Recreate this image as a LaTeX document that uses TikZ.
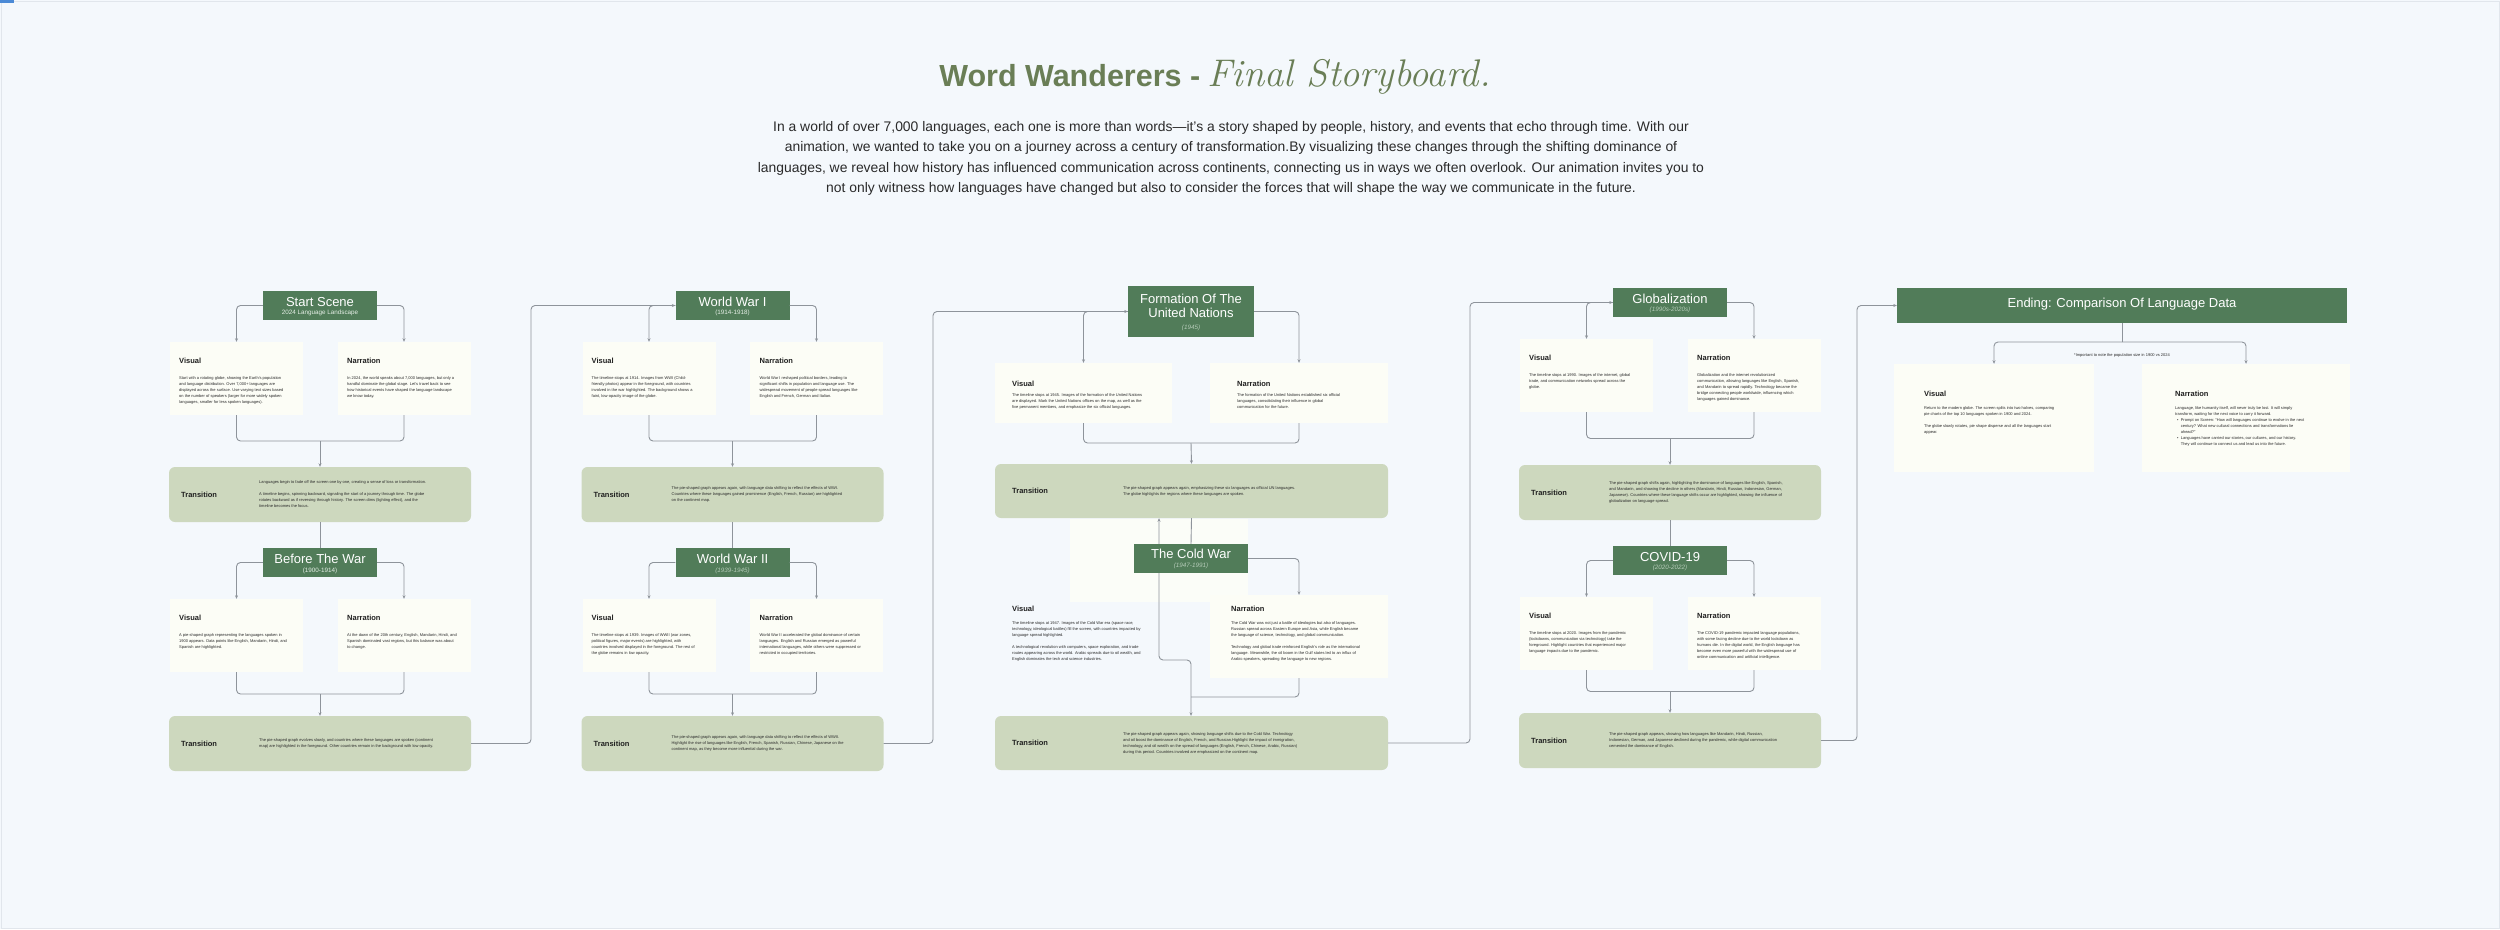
\documentclass[tikz,border=0pt]{standalone}
\usepackage{fontspec}
\setsansfont{Liberation Sans}
\renewcommand\familydefault{\sfdefault}
\usetikzlibrary{arrows.meta}
\definecolor{bgc}{HTML}{F4F8FC}
\definecolor{hdrg}{HTML}{517C59}
\definecolor{cream}{HTML}{FCFDF6}
\definecolor{sage}{HTML}{CDD8BE}
\definecolor{linec}{HTML}{8E949B}
\definecolor{txtc}{HTML}{2A2A2A}
\definecolor{titlec}{HTML}{6A7E56}
\definecolor{subit}{HTML}{B5CBB8}
\definecolor{subup}{HTML}{E6EFE7}
\definecolor{framec}{HTML}{E1E6EC}
\definecolor{faint}{HTML}{FBFDF8}
\definecolor{markc}{HTML}{4B8AD6}
\tikzset{
 hdrbox/.style={fill=hdrg, draw=none, inner sep=0pt, minimum width=114pt, minimum height=29pt},
 htitle/.style={text=white, inner sep=0pt, font=\sffamily\fontsize{13}{14}\selectfont, align=center},
 hsub/.style={text=subup, inner sep=0pt, font=\sffamily\fontsize{6.3}{7}\selectfont},
 hsubit/.style={text=subit, inner sep=0pt, font=\sffamily\fontsize{6.3}{7}\selectfont\itshape},
 cbox/.style={fill=cream, draw=none, inner sep=0pt, minimum width=133pt, minimum height=73pt},
 tbox/.style={fill=sage, draw=none, rounded corners=6pt, inner sep=0pt, minimum width=302pt, minimum height=55pt},
 lbl/.style={inner sep=0pt, text=black!88, font=\sffamily\fontsize{7.5}{8}\selectfont\bfseries},
 body/.style={inner sep=0pt, text=txtc, align=left, font=\sffamily\fontsize{4}{6}\selectfont},
 conn/.style={draw=linec, line width=0.9pt, rounded corners=4pt},
 arr/.style={-{Stealth[length=3.5pt,width=3pt]}},
 darr/.style={{Stealth[length=3.5pt,width=3pt]}-{Stealth[length=3.5pt,width=3pt]}},
}
% #1 name, #2 cx, #3 header top, #4 transition top, #5 title, #6 subtitle node, #7 visual, #8 narration, #9 transition
\newcommand\scenesec[9]{%
 \node[hdrbox] (#1h) at (#2,{#3+14.5}) {};
 \node[htitle] (#1ht) at (#2,{#3+11}) {#5};
 #6
 \node[cbox] (#1v) at ({#2-83.5},{#3+87.5}) {};
 \node[cbox] (#1n) at ({#2+84},{#3+87.5}) {};
 \node[lbl,anchor=base west] (#1vl) at ({#2-141},{#3+72}) {Visual};
 \node[body,anchor=north west] (#1vb) at ({#2-141},{#3+85}) {#7};
 \node[lbl,anchor=base west] (#1nl) at ({#2+27},{#3+72}) {Narration};
 \node[body,anchor=north west] (#1nb) at ({#2+27},{#3+85}) {#8};
 \node[tbox] (#1t) at (#2,{#4+27.5}) {};
 \node[lbl,anchor=west] (#1tl) at ({#2-139},{#4+27.5}) {Transition};
 \node[body,anchor=west] (#1tb) at ({#2-61},{#4+27.5}) {#9};
 \draw[conn,arr] (#1h.west) -| (#1v.north);
 \draw[conn,arr] (#1h.east) -| (#1n.north);
 \draw[conn] (#1v.south) |- (#2,{(#3+124+#4)/2}) -| (#1n.south);
 \draw[conn,arr] (#2,{(#3+124+#4)/2}) -- (#1t.north);
}
\begin{document}
\begin{tikzpicture}[x=1pt,y=-1pt,font=\sffamily]
\useasboundingbox (0,0) rectangle (2500,929);
\fill[bgc] (0,0) rectangle (2500,929);
\draw[framec,line width=1pt] (1,1) rectangle (2499,928);
\fill[markc] (0,0) rectangle (14,3);

% title
\node[anchor=base, inner sep=0pt, text=titlec] (title) at (1215,86)
 {{\sffamily\fontsize{30.5}{31}\selectfont\bfseries Word Wanderers -}\hspace{7pt}{\rmfamily\itshape\fontsize{38.5}{39}\selectfont Final Storyboard.}};
\node[anchor=north, inner sep=0pt, align=center, text=txtc, font=\sffamily\fontsize{13.9}{20.4}\selectfont] (intro) at (1231,121)
 {In a world of over 7,000 languages, each one is more than words—it's a story shaped by people, history, and events that echo through time. With our\\
 animation, we wanted to take you on a journey across a century of transformation.By visualizing these changes through the shifting dominance of\\
 languages, we reveal how history has influenced communication across continents, connecting us in ways we often overlook. Our animation invites you to\\
 not only witness how languages have changed but also to consider the forces that will shape the way we communicate in the future.};

% column 1
\scenesec{ss}{320}{291}{467}{Start Scene}{\node[hsub] (sshs) at (320,313) {2024 Language Landscape};}
 {Start with a rotating globe, showing the Earth's population\\and language distribution. Over 7,000+ languages are\\displayed across the surface. Use varying text sizes based\\on the number of speakers (larger for more widely spoken\\languages, smaller for less spoken languages).}
 {In 2024, the world speaks about 7,000 languages, but only a\\handful dominate the global stage. Let's travel back to see\\how historical events have shaped the language landscape\\we know today.}
 {Languages begin to fade off the screen one by one, creating a sense of loss or transformation.\\[6pt]A timeline begins, spinning backward, signaling the start of a journey through time. The globe\\rotates backward as if reversing through history. The screen dims (lighting effect), and the\\timeline becomes the focus.}
\scenesec{bw}{320}{548}{716}{Before The War}{\node[hsub] (bwhs) at (320,571) {(1900-1914)};}
 {A pie-shaped graph representing the languages spoken in\\1900 appears. Data points like English, Mandarin, Hindi, and\\Spanish are highlighted.}
 {At the dawn of the 20th century, English, Mandarin, Hindi, and\\Spanish dominated vast regions, but this balance was about\\to change.}
 {The pie-shaped graph evolves slowly, and countries where these languages are spoken (continent\\map) are highlighted in the foreground. Other countries remain in the background with low opacity.}
\draw[conn] (sst.south) -- (bwh.north);

% column 2
\scenesec{wa}{732.5}{291}{467}{World War I}{\node[hsub] (wahs) at (732.5,312.5) {(1914-1918)};}
 {The timeline stops at 1914. Images from WWI (Child-\\friendly photos) appear in the foreground, with countries\\involved in the war highlighted. The background shows a\\faint, low-opacity image of the globe.}
 {World War I reshaped political borders, leading to\\significant shifts in population and language use. The\\widespread movement of people spread languages like\\English and French, German and Italian.}
 {The pie-shaped graph appears again, with language data shifting to reflect the effects of WWI.\\Countries where these languages gained prominence (English, French, Russian) are highlighted\\on the continent map.}
\scenesec{wb}{732.5}{548}{716}{World War II}{\node[hsubit] (wbhs) at (732.5,571) {(1939-1945)};}
 {The timeline stops at 1939. Images of WWII (war zones,\\political figures, major events) are highlighted, with\\countries involved displayed in the foreground. The rest of\\the globe remains in low opacity.}
 {World War II accelerated the global dominance of certain\\languages. English and Russian emerged as powerful\\international languages, while others were suppressed or\\restricted in occupied territories.}
 {The pie-shaped graph appears again, with language data shifting to reflect the effects of WWII.\\Highlight the rise of languages like English, French, Spanish, Russian, Chinese, Japanese on the\\continent map, as they become more influential during the war.}
\draw[conn] (wat.south) -- (wbh.north);
\draw[conn,arr] (bwt.east) -| (531,500) |- (wah.west);

% column 3 : United Nations
\node[hdrbox, minimum width=126pt, minimum height=51pt] (unh) at (1191,311.5) {};
\node[htitle] (unht) at (1191,306) {Formation Of The\\United Nations};
\node[hsubit] (unhs) at (1191,328) {(1945)};
\node[cbox, minimum width=177pt, minimum height=60pt] (unv) at (1083.5,393) {};
\node[cbox, minimum width=178pt, minimum height=60pt] (unn) at (1299,393) {};
\node[lbl,anchor=base west] (unvl) at (1012,386) {Visual};
\node[body,anchor=north west] (unvb) at (1012,393.5) {The timeline stops at 1945. Images of the formation of the United Nations\\are displayed. Mark the United Nations offices on the map, as well as the\\five permanent members, and emphasize the six official languages.};
\node[lbl,anchor=base west] (unnl) at (1237,386) {Narration};
\node[body,anchor=north west] (unnb) at (1237,393.5) {The formation of the United Nations established six official\\languages, consolidating their influence in global\\communication for the future.};
\node[tbox, minimum width=393pt, minimum height=54pt] (unt) at (1191.5,491) {};
\node[lbl,anchor=west] (untl) at (1012,491) {Transition};
\node[body,anchor=west] (untb) at (1123,491) {The pie-shaped graph appears again, emphasizing these six languages as official UN languages.\\The globe highlights the regions where these languages are spoken.};
\draw[conn,arr] (unh.west) -| (unv.north);
\draw[conn,arr] (unh.east) -| (unn.north);
\draw[conn] (unv.south) |- (1191,443) -| (unn.south);
\draw[conn,arr] (1191,443) -- (unt.north);
\draw[conn,arr] (wbt.east) -| (933,500) |- (unh.west);

% column 3 : Cold War
\fill[faint] (1070,519) rectangle (1248,602);
\coordinate (cwl) at (1159,660);
\coordinate (cwj) at (1191,660);
\node[tbox, minimum width=393pt, minimum height=54pt] (cwt) at (1191.5,743) {};
\draw[conn,darr] (unt.south -| cwl) -- (cwl) -- (cwj) -- (cwt.north -| cwj);
\node[hdrbox] (cwh) at (1191,558.5) {};
\node[htitle] (cwht) at (1191,554) {The Cold War};
\node[hsubit] (cwhs) at (1191,565.5) {(1947-1991)};
\draw[conn] (unt.south) -- (cwh.north);
\node[cbox, minimum width=178pt, minimum height=83pt] (cwn) at (1299,636.5) {};
\draw[conn,arr] (cwh.east) -| (cwn.north);
\draw[conn] (cwn.south) |- (cwj |- 0,697);
\node[lbl,anchor=base west] (cwvl) at (1012,611) {Visual};
\node[body,anchor=north west] (cwvb) at (1012,621) {The timeline stops at 1947. Images of the Cold War era (space race,\\technology, ideological battles) fill the screen, with countries impacted by\\language spread highlighted.\\[6pt]A technological revolution with computers, space exploration, and trade\\routes appearing across the world. Arabic spreads due to oil wealth, and\\English dominates the tech and science industries.};
\node[lbl,anchor=base west] (cwnl) at (1231,611) {Narration};
\node[body,anchor=north west] (cwnb) at (1231,621) {The Cold War was not just a battle of ideologies but also of languages.\\Russian spread across Eastern Europe and Asia, while English became\\the language of science, technology, and global communication.\\[6pt]Technology and global trade reinforced English's role as the international\\language. Meanwhile, the oil boom in the Gulf states led to an influx of\\Arabic speakers, spreading the language to new regions.};
\node[lbl,anchor=west] (cwtl) at (1012,743) {Transition};
\node[body,anchor=west] (cwtb) at (1123,743) {The pie-shaped graph appears again, showing language shifts due to the Cold War. Technology\\and oil boost the dominance of English, French, and Russian.Highlight the impact of immigration,\\technology, and oil wealth on the spread of languages (English, French, Chinese, Arabic, Russian)\\during this period. Countries involved are emphasized on the continent map.};

% column 4
\scenesec{gl}{1670}{288}{465}{Globalization}{\node[hsubit] (glhs) at (1670,310) {(1990s-2020s)};}
 {The timeline stops at 1990. Images of the internet, global\\trade, and communication networks spread across the\\globe.}
 {Globalization and the internet revolutionized\\communication, allowing languages like English, Spanish,\\and Mandarin to spread rapidly. Technology became the\\bridge connecting people worldwide, influencing which\\languages gained dominance.}
 {The pie-shaped graph shifts again, highlighting the dominance of languages like English, Spanish,\\and Mandarin, and showing the decline in others (Mandarin, Hindi, Russian, Indonesian, German,\\Japanese). Countries where these language shifts occur are highlighted, showing the influence of\\globalization on language spread.}
\scenesec{cv}{1670}{546}{713}{COVID-19}{\node[hsubit] (cvhs) at (1670,567.5) {(2020-2022)};}
 {The timeline stops at 2020. Images from the pandemic\\(lockdowns, communication via technology) take the\\foreground. Highlight countries that experienced major\\language impacts due to the pandemic.}
 {The COVID-19 pandemic impacted language populations,\\with some facing decline due to the world lockdown as\\humans die. In the digital world, the English language has\\become even more powerful with the widespread use of\\online communication and artificial intelligence.}
 {The pie-shaped graph appears, showing how languages like Mandarin, Hindi, Russian,\\Indonesian, German, and Japanese declined during the pandemic, while digital communication\\cemented the dominance of English.}
\draw[conn] (glt.south) -- (cvh.north);
\draw[conn,arr] (cwt.east) -| (1470,500) |- (glh.west);

% ending
\node[hdrbox, minimum width=450pt, minimum height=35pt] (enh) at (2122,305.5) {};
\node[htitle] (enht) at (2122,304.5) {Ending: Comparison Of Language Data};
\node[cbox, minimum width=200pt, minimum height=108pt] (env) at (1994,418) {};
\node[cbox, minimum width=208pt, minimum height=108pt] (enn) at (2246,418) {};
\coordinate (enj) at (2122,342);
\draw[conn] (enh.south) -- (enj);
\draw[conn,arr] (enj) -| (env.north);
\draw[conn,arr] (enj) -| (enn.north);
\node[body] (ennote) at (2122,355) {*Important to note the population size in 1900 vs 2024};
\node[lbl,anchor=base west] (envl) at (1924,396) {Visual};
\node[body,anchor=north west] (envb) at (1924,406) {Return to the modern globe. The screen splits into two halves, comparing\\pie charts of the top 10 languages spoken in 1900 and 2024.\\[6pt]The globe slowly rotates, pie shape disperse and all the languages start\\appear.};
\node[lbl,anchor=base west] (ennl) at (2175,396) {Narration};
\node[body,anchor=north west] (ennb) at (2175,406) {Language, like humanity itself, will never truly be lost. It will simply\\transform, waiting for the next voice to carry it forward.\\\hspace*{2pt}\textbullet\hspace*{2.2pt}Prompt on Screen: “How will languages continue to evolve in the next\\\hspace*{5.6pt}century? What new cultural connections and transformations lie\\\hspace*{5.6pt}ahead?”\\\hspace*{2pt}\textbullet\hspace*{2.2pt}Languages have carried our stories, our cultures, and our history.\\\hspace*{5.6pt}They will continue to connect us and lead us into the future.};
\draw[conn,arr] (cvt.east) -| (1857,500) |- (enh.west);
\end{tikzpicture}
\end{document}
